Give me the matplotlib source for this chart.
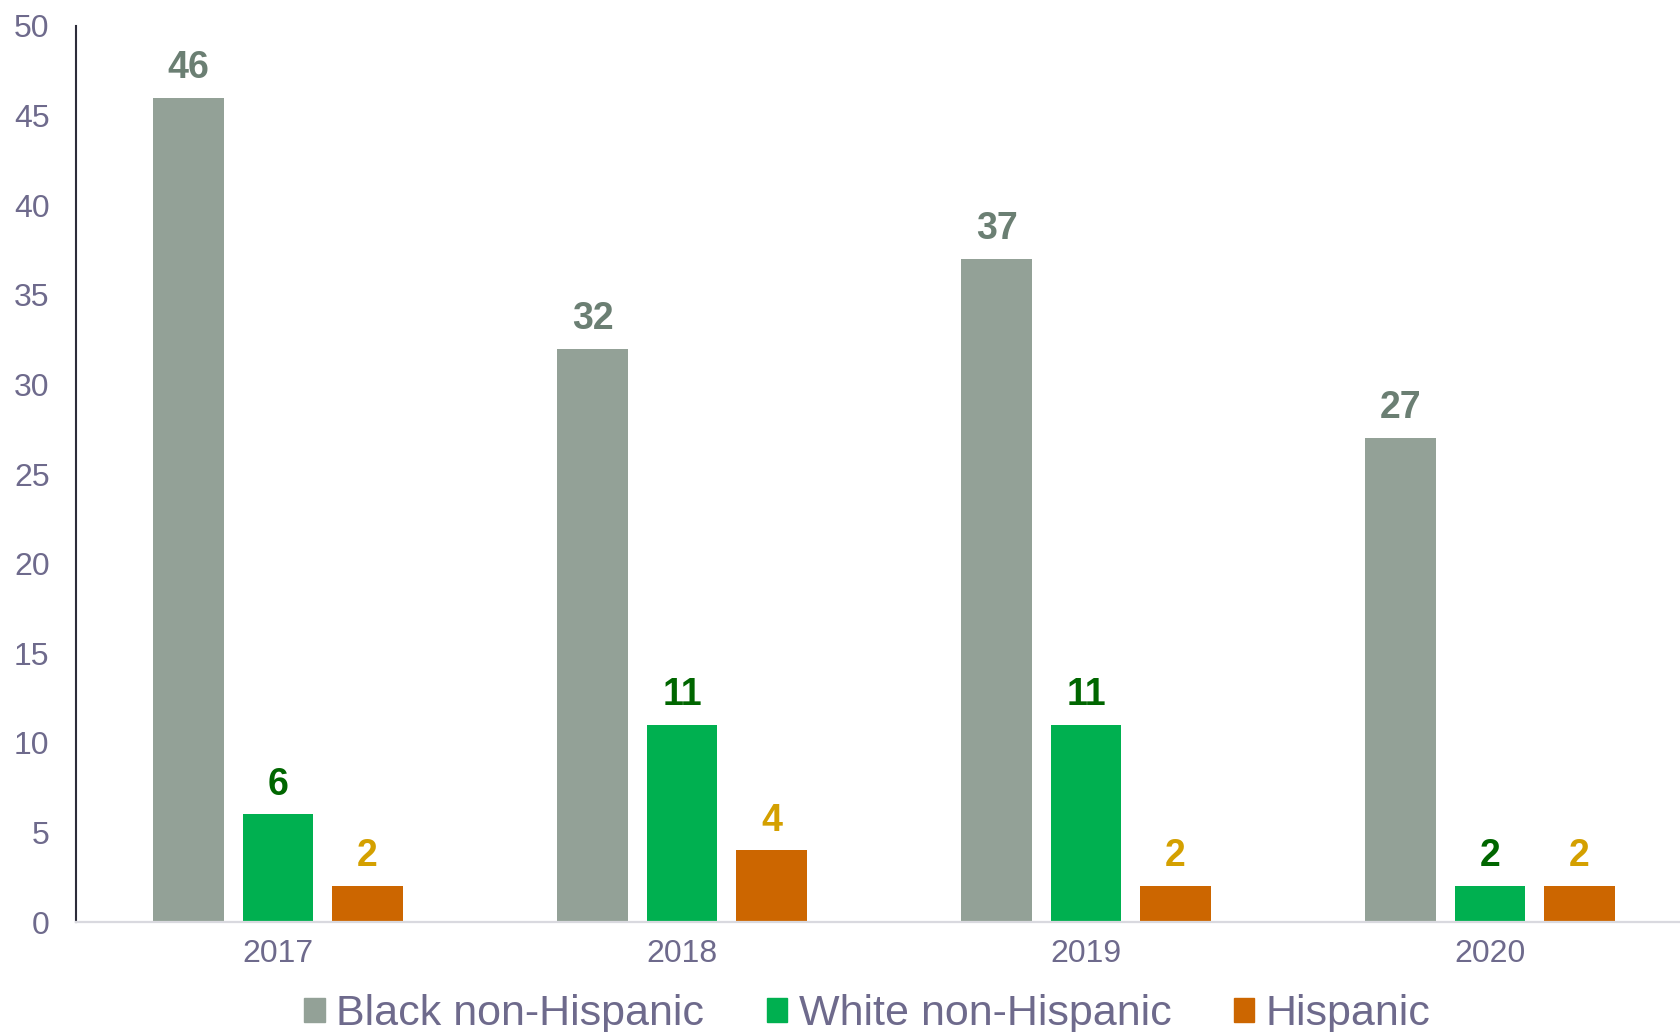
"""Grouped bars by year, three groups, value labels on top. Agg, writes out.png."""
import matplotlib
matplotlib.use("Agg")
import matplotlib.pyplot as plt  # noqa: E402
import numpy as np  # noqa: E402
from matplotlib.patches import Patch  # noqa: E402

years = ["2017", "2018", "2019", "2020"]
black = [46, 32, 37, 27]
white = [6, 11, 11, 2]
hispanic = [2, 4, 2, 2]
series_names = ["Black non-Hispanic", "White non-Hispanic", "Hispanic"]

BAR_COLORS = ["#93a197", "#00b050", "#cc6600"]
LABEL_COLORS = ["#6b7f73", "#006600", "#d4a000"]
TXT = "#6e6a8c"

plt.rcParams.update({"font.family": ["Liberation Sans", "DejaVu Sans"]})


def main():
    fig = plt.figure(figsize=(16.81, 10.32), dpi=100)
    ax = fig.add_axes([76 / 1681, 110 / 1032, 1 - 76 / 1681, 896 / 1032])

    x = np.arange(len(years))
    step, w = 0.2215, 0.175
    for i, (vals, col, lcol) in enumerate(zip([black, white, hispanic],
                                              BAR_COLORS, LABEL_COLORS)):
        bars = ax.bar(x + (i - 1) * step, vals, w, color=col)
        ax.bar_label(bars, padding=8.5, fontsize=27, fontweight="bold", color=lcol)

    ax.set_xlim(-0.5, -0.5 + (1681 - 76) / 404)
    ax.set_ylim(0, 50)
    ax.set_yticks(range(0, 51, 5))
    ax.set_xticks(x)
    ax.set_xticklabels(years)
    ax.tick_params(axis="x", length=0, pad=12, labelsize=23, labelcolor=TXT)
    ax.tick_params(axis="y", length=0, pad=19, labelsize=23, labelcolor=TXT)

    for sp in ("top", "right"):
        ax.spines[sp].set_visible(False)
    ax.spines["left"].set_color("#2d2d3a")
    ax.spines["left"].set_linewidth(1.5)
    ax.spines["bottom"].set_color("#d9d9df")
    ax.spines["bottom"].set_linewidth(1.6)

    handles = [Patch(color=c) for c in BAR_COLORS]
    fig.legend(handles, series_names, loc="center",
               bbox_to_anchor=(0.516, 1 - 1014 / 1032), ncol=3, frameon=False,
               fontsize=31, labelcolor=TXT, handlelength=0.48, handleheight=0.48,
               handletextpad=0.26, columnspacing=1.45, borderpad=0)

    fig.savefig("out.png", dpi=100)


if __name__ == "__main__":
    main()
